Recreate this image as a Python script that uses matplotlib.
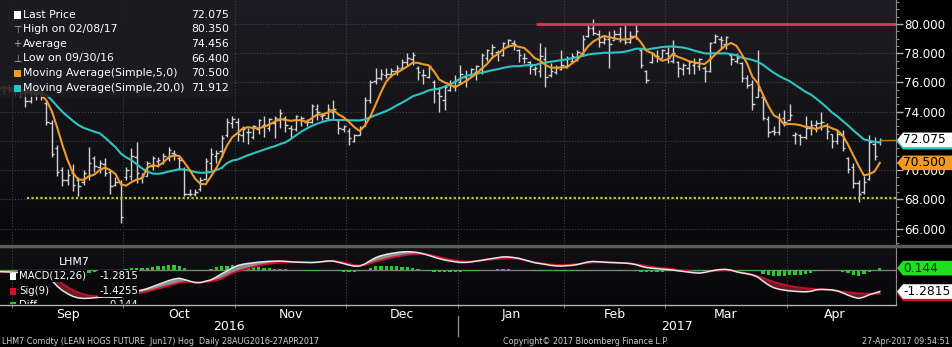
import numpy as np
import pandas as pd
import matplotlib
matplotlib.use("Agg")
import matplotlib.pyplot as plt
import matplotlib.transforms as mtransforms
from matplotlib.patches import Polygon, Rectangle
from matplotlib.lines import Line2D
from matplotlib.colors import LinearSegmentedColormap

# ---------------------------------------------------------------- data
ticker = "LHM7"
holidays = ["2016-09-05", "2016-11-24", "2016-12-26", "2017-01-02",
            "2017-01-16", "2017-02-20", "2017-04-14"]
sessions = pd.bdate_range("2016-08-29", "2017-04-27")
sessions = sessions[~sessions.isin(pd.to_datetime(holidays))]

open_ = [
    75.6, 75.5, 75.6, 75.4, 75.5, 75.3, 74.7, 75.2, 75.3, 74.6,
    73.2, 71.5, 70.0, 69.3, 69.8, 69.3, 69.2, 69.6, 70.8, 70.2,
    70.4, 69.9, 69.0, 69.2, 69.5, 69.6, 70.9, 69.5, 69.6, 70.3,
    70.6, 70.5, 70.8, 71.2, 70.8, 70.1, 68.4, 68.4, 68.7, 69.4,
    70.5, 71.0, 71.3, 72.4, 73.2, 73.3, 72.4, 72.6, 72.3, 72.8,
    73.1, 72.9, 73.2, 73.4, 73.6, 72.9, 72.8, 73.4, 73.3, 73.3,
    74.2, 73.7, 73.6, 74.0, 73.4, 72.8, 72.7, 72.0, 72.4, 73.0,
    74.8, 76.1, 76.3, 76.5, 76.6, 76.8, 77.0, 77.4, 77.6, 77.0,
    76.5, 76.4, 76.0, 75.3, 74.8, 75.5, 75.7, 76.0, 76.4, 76.5,
    76.7, 76.9, 77.7, 78.0, 78.1, 77.9, 78.5, 78.7, 78.2, 77.7,
    77.4, 76.9, 76.8, 77.6, 76.5, 76.7, 76.9, 77.1, 77.5, 77.6,
    78.0, 79.2, 79.7, 79.3, 78.8, 79.0, 78.9, 79.3, 79.0, 78.8,
    79.2, 78.2, 76.8, 77.4, 77.8, 77.7, 78.0, 77.5, 77.4, 76.9,
    77.0, 77.2, 77.1, 77.0, 76.8, 78.8, 79.0, 78.6, 77.9, 77.5,
    77.3, 76.3, 75.9, 75.0, 75.0, 73.5, 72.7, 72.6, 73.6, 73.4,
    72.4, 72.4, 72.3, 72.9, 73.1, 73.2, 73.1, 72.5, 72.0, 72.4,
    70.8, 70.2, 69.1, 68.5, 69.4, 71.8, 71.9,
]
high = [
    75.9, 75.8, 75.9, 75.8, 75.7, 75.6, 75.5, 75.6, 75.5, 74.7,
    73.4, 71.7, 70.2, 70.1, 70.4, 69.5, 70.0, 71.6, 71.0, 70.7,
    70.8, 70.0, 69.5, 69.3, 70.2, 71.5, 71.9, 69.8, 70.6, 71.0,
    70.9, 71.2, 71.6, 71.4, 70.9, 70.2, 68.7, 68.7, 69.5, 70.8,
    71.5, 71.4, 72.4, 73.6, 73.7, 73.6, 73.0, 72.9, 73.1, 73.5,
    73.7, 73.6, 73.7, 74.2, 73.7, 73.1, 73.8, 73.7, 73.5, 74.5,
    74.5, 73.9, 74.5, 74.8, 73.5, 73.1, 72.9, 72.5, 73.0, 75.0,
    76.2, 77.0, 76.9, 77.0, 77.0, 77.2, 77.6, 78.0, 78.1, 77.1,
    76.9, 77.2, 76.2, 75.7, 75.8, 76.2, 76.5, 77.2, 76.85, 77.0,
    77.2, 78.0, 78.3, 78.6, 78.2, 78.8, 79.0, 78.9, 78.3, 78.0,
    77.5, 77.1, 78.7, 78.45, 77.3, 77.2, 78.2, 77.8, 78.0, 78.2,
    79.25, 79.9, 80.35, 79.6, 79.25, 79.5, 79.6, 79.8, 79.93, 79.5,
    79.9, 78.3, 76.85, 78.1, 78.2, 78.3, 78.45, 78.9, 77.5, 77.3,
    77.5, 77.65, 77.65, 77.1, 78.8, 79.3, 79.2, 79.2, 78.0, 78.0,
    77.4, 76.5, 76.2, 78.2, 75.2, 73.7, 73.0, 73.9, 74.1, 74.5,
    72.6, 72.5, 73.7, 73.4, 73.4, 74.0, 73.2, 72.5, 72.75, 72.75,
    70.9, 70.5, 69.3, 69.6, 72.4, 72.3, 72.2,
]
low = [
    75.3, 75.2, 75.3, 75.1, 75.0, 74.3, 74.6, 74.8, 74.8, 73.1,
    70.9, 69.6, 68.9, 69.0, 68.6, 68.2, 69.0, 69.3, 69.9, 69.8,
    69.6, 68.4, 68.9, 66.4, 69.3, 69.3, 69.1, 69.1, 69.6, 70.0,
    70.2, 70.4, 70.6, 70.7, 70.0, 68.2, 68.2, 68.2, 68.6, 69.3,
    70.0, 70.5, 70.9, 72.3, 72.9, 72.0, 71.9, 71.8, 72.1, 72.5,
    72.3, 72.7, 72.2, 72.9, 72.6, 72.2, 72.7, 73.0, 73.0, 73.2,
    73.4, 73.4, 73.4, 73.4, 72.5, 72.6, 71.7, 71.9, 72.4, 73.0,
    74.6, 75.9, 76.2, 76.3, 76.4, 76.5, 76.9, 77.1, 77.2, 76.2,
    75.9, 76.3, 74.6, 74.0, 74.1, 75.4, 75.4, 75.9, 75.7, 76.4,
    76.2, 76.6, 77.5, 77.65, 77.5, 77.8, 78.45, 78.2, 77.4, 77.3,
    76.6, 76.5, 76.4, 75.7, 76.4, 76.6, 76.85, 76.97, 77.3, 77.5,
    77.8, 79.1, 79.25, 78.45, 78.6, 77.0, 78.9, 78.8, 78.6, 78.7,
    79.0, 77.0, 75.94, 77.3, 77.4, 77.65, 77.3, 77.3, 76.4, 76.5,
    76.6, 76.6, 76.85, 76.05, 76.7, 78.7, 78.3, 78.3, 77.2, 77.3,
    76.05, 75.6, 74.1, 75.0, 73.4, 72.3, 72.4, 72.4, 73.0, 73.4,
    71.8, 71.7, 72.1, 72.4, 72.6, 72.75, 72.1, 71.5, 71.8, 71.3,
    69.8, 68.8, 67.8, 68.4, 69.3, 70.7, 71.7,
]
close = [
    75.6, 75.7, 75.5, 75.6, 75.3, 74.7, 75.4, 75.4, 75.0, 73.3,
    71.1, 69.9, 69.3, 69.7, 69.0, 68.9, 69.8, 70.5, 70.3, 70.5,
    69.8, 68.9, 69.2, 66.8, 70.0, 71.0, 69.8, 69.6, 70.5, 70.8,
    70.7, 71.0, 71.4, 71.1, 70.7, 68.4, 68.4, 68.5, 69.3, 70.6,
    71.1, 71.2, 72.2, 73.3, 73.5, 72.5, 72.8, 72.6, 73.0, 73.4,
    73.1, 73.5, 73.6, 73.9, 73.1, 72.8, 73.7, 73.6, 73.3, 74.4,
    74.0, 73.8, 74.2, 74.2, 72.9, 73.0, 72.2, 72.4, 72.9, 74.8,
    76.0, 76.3, 76.6, 76.6, 76.8, 77.0, 77.4, 77.7, 77.9, 76.7,
    76.5, 77.1, 75.6, 75.1, 75.7, 75.8, 76.2, 76.6, 76.2, 76.9,
    77.1, 77.9, 78.2, 78.4, 78.1, 78.7, 78.9, 78.6, 77.9, 77.7,
    77.1, 77.0, 77.8, 76.4, 76.8, 77.0, 77.2, 77.7, 77.8, 78.1,
    79.0, 79.7, 79.4, 78.8, 79.0, 78.6, 79.3, 79.0, 78.8, 79.2,
    79.5, 77.2, 76.2, 78.0, 77.8, 78.2, 77.7, 78.0, 77.0, 77.2,
    77.4, 77.3, 77.6, 76.8, 78.7, 79.2, 78.9, 79.1, 77.6, 77.7,
    76.3, 75.8, 74.5, 75.5, 73.6, 72.6, 72.6, 73.5, 73.3, 73.8,
    72.5, 72.3, 72.9, 73.1, 73.2, 73.3, 72.7, 72.0, 72.44, 71.5,
    70.1, 69.1, 68.35, 69.175, 71.9, 71.0, 72.075,
]
macd = [
    -0.07, -0.08, -0.09, -0.11, -0.13, -0.16, -0.18, -0.20, -0.23, -0.30,
    -0.60, -0.95, -1.22, -1.42, -1.58, -1.67, -1.70, -1.69, -1.66, -1.63,
    -1.61, -1.62, -1.64, -1.62, -1.45, -1.32, -1.25, -1.19, -1.10, -0.98,
    -0.86, -0.74, -0.62, -0.52, -0.47, -0.55, -0.65, -0.74, -0.74, -0.65,
    -0.57, -0.40, -0.20, -0.03, 0.15, 0.30, 0.38, 0.43, 0.47, 0.51,
    0.54, 0.56, 0.57, 0.58, 0.56, 0.53, 0.51, 0.50, 0.49, 0.48,
    0.50, 0.54, 0.58, 0.58, 0.50, 0.42, 0.33, 0.26, 0.27, 0.40,
    0.60, 0.78, 0.90, 0.98, 1.04, 1.09, 1.13, 1.15, 1.13, 1.09,
    1.02, 0.92, 0.82, 0.72, 0.64, 0.58, 0.53, 0.49, 0.49, 0.52,
    0.57, 0.62, 0.68, 0.73, 0.78, 0.83, 0.83, 0.79, 0.74, 0.65,
    0.56, 0.47, 0.42, 0.37, 0.31, 0.28, 0.27, 0.29, 0.31, 0.36,
    0.44, 0.52, 0.55, 0.53, 0.51, 0.49, 0.48, 0.46, 0.45, 0.42,
    0.36, 0.26, 0.18, 0.14, 0.11, 0.08, 0.06, 0.03, -0.02, -0.06,
    -0.10, -0.14, -0.16, -0.12, -0.04, 0.02, 0.06, 0.07, 0.02, -0.08,
    -0.15, -0.20, -0.27, -0.40, -0.65, -0.88, -1.05, -1.14, -1.20, -1.24,
    -1.27, -1.29, -1.30, -1.27, -1.18, -1.15, -1.16, -1.18, -1.24, -1.36,
    -1.50, -1.62, -1.70, -1.62, -1.48, -1.38, -1.2815,
]
signal = [
    -0.07, -0.07, -0.08, -0.09, -0.10, -0.11, -0.13, -0.15, -0.18, -0.22,
    -0.35, -0.55, -0.80, -1.02, -1.20, -1.34, -1.45, -1.52, -1.56, -1.59,
    -1.60, -1.60, -1.60, -1.59, -1.55, -1.49, -1.42, -1.35, -1.28, -1.20,
    -1.11, -1.02, -0.93, -0.84, -0.76, -0.70, -0.69, -0.71, -0.72, -0.70,
    -0.66, -0.60, -0.50, -0.33, -0.17, -0.05, 0.05, 0.14, 0.22, 0.30,
    0.36, 0.41, 0.45, 0.48, 0.49, 0.50, 0.50, 0.50, 0.50, 0.50,
    0.51, 0.53, 0.55, 0.56, 0.54, 0.49, 0.41, 0.33, 0.30, 0.34,
    0.42, 0.53, 0.62, 0.70, 0.78, 0.84, 0.90, 0.95, 0.98, 1.00,
    1.00, 0.97, 0.90, 0.81, 0.74, 0.67, 0.61, 0.57, 0.54, 0.55,
    0.58, 0.61, 0.64, 0.67, 0.70, 0.73, 0.75, 0.74, 0.70, 0.64,
    0.56, 0.50, 0.45, 0.41, 0.37, 0.34, 0.33, 0.34, 0.36, 0.39,
    0.42, 0.46, 0.49, 0.50, 0.50, 0.49, 0.48, 0.47, 0.45, 0.42,
    0.38, 0.34, 0.28, 0.22, 0.18, 0.15, 0.12, 0.08, 0.04, 0.00,
    -0.04, -0.08, -0.11, -0.10, -0.06, -0.02, 0.01, 0.02, 0.00, -0.05,
    -0.12, -0.18, -0.25, -0.35, -0.46, -0.58, -0.70, -0.79, -0.87, -0.94,
    -1.00, -1.04, -1.08, -1.11, -1.13, -1.15, -1.18, -1.21, -1.25, -1.29,
    -1.33, -1.36, -1.39, -1.40, -1.41, -1.42, -1.4255,
]

support_level = 68.1
resistance_level = 80.0
price_ticks = [66, 68, 70, 72, 74, 76, 78, 80]

# ---------------------------------------------------------------- derived series
o = np.array(open_)
h = np.array(high)
l = np.array(low)
c = np.array(close)
n = len(c)
xs = np.arange(n)
dates = sessions[:n]

ma5 = pd.Series(c).rolling(5, min_periods=1).mean().to_numpy()
ma20 = pd.Series(c).rolling(20, min_periods=1).mean().to_numpy()
m = np.array(macd)
s = np.array(signal)
d = m - s

months = dates.to_period("M")
first_idx = [i for i in range(1, n) if months[i] != months[i - 1]]
bounds = [i - 0.5 for i in first_idx]
edges = bounds + [n - 0.5]
centers = [(a + b) / 2 for a, b in zip(edges[:-1], edges[1:])]
month_names = [dates[i].strftime("%b") for i in first_idx]
year_break = next(i for i in range(1, n) if dates[i].year != dates[i - 1].year) - 0.5

# ---------------------------------------------------------------- figure
W, H = 952, 347
fig = plt.figure(figsize=(W / 100, H / 100), dpi=100)
fig.patch.set_facecolor("black")


def fx(px):
    return px / W


def fy(py):
    return 1 - py / H


PANEL_R = 896
ax = fig.add_axes([0, fy(244), fx(PANEL_R), 244 / H])
axm = fig.add_axes([0, fy(304), fx(PANEL_R), (304 - 247) / H])

x_lo, x_hi = 0.24, 169.05
p_lo, p_hi = 64.95, 81.64
m_lo, m_hi = -2.04, 1.43

grad = np.linspace(0, 1, 256).reshape(-1, 1)
ax.imshow(grad, extent=(0, 1, 0, 1), transform=ax.transAxes, aspect="auto",
          cmap=LinearSegmentedColormap.from_list("bgp", ["#1d1d23", "#09090c"]), zorder=0)
axm.imshow(grad, extent=(0, 1, 0, 1), transform=axm.transAxes, aspect="auto",
           cmap=LinearSegmentedColormap.from_list("bgm", ["#111115", "#060608"]), zorder=0)

grid_kw = dict(color="#4a4a52", lw=0.7, ls=(0, (1, 2)), zorder=1)
for t in price_ticks:
    ax.axhline(t, **grid_kw)
for b in bounds:
    ax.axvline(b, **grid_kw)
    axm.axvline(b, **grid_kw)

# price bars (high-low with open / close ticks)
bar_c = "#d2d2d2"
ax.vlines(xs, l, h, color=bar_c, lw=1.0, zorder=3)
ax.hlines(o, xs - 0.45, xs, color=bar_c, lw=1.0, zorder=3)
ax.hlines(c, xs, xs + 0.45, color=bar_c, lw=1.0, zorder=3)

ax.plot(xs, ma20, color="#2ec4c4", lw=1.5, zorder=4)
ax.plot(xs, ma5, color="#f09a28", lw=1.5, zorder=5)

ax.hlines(resistance_level, 101.2, x_hi, color="#e8305c", lw=2.0, zorder=4)
ax.hlines(support_level, 5.3, x_hi, color="#a6d436", lw=1.6, linestyles=(0, (1, 1)), zorder=4)
ax.hlines(c[-1], xs[-1], x_hi, color="#b8742a", lw=1.0, zorder=4)

ax.set_xlim(x_lo, x_hi)
ax.set_ylim(p_lo, p_hi)
ax.set_xticks([])
ax.yaxis.tick_right()
ax.set_yticks(price_ticks)
# a tick label lying fully under the last-price tag is not printed
ax.set_yticklabels(["" if abs(t - c[-1]) < 0.5 else f"{t:.3f}" for t in price_ticks])
ax.set_yticks(np.arange(65, 81.6, 0.5), minor=True)
ax.tick_params(axis="y", which="major", colors="#b0b0b0", labelcolor="white",
               length=5, width=1, direction="out", pad=1, labelsize=8.6)
ax.tick_params(axis="y", which="minor", colors="#8a8a8a", length=2.5, width=0.8, direction="out")
for sp in ("top", "left", "bottom"):
    ax.spines[sp].set_visible(False)
ax.spines["right"].set_color("#8a8a8a")

# MACD panel
axm.axhline(0, color="#7c7c7c", lw=1.0, zorder=1)
axm.bar(xs, d, width=0.62, color="#25cc25", zorder=2)
axm.fill_between(xs, m, s, where=m >= s, interpolate=True, color="#8e8e8e", lw=0, zorder=3)
axm.fill_between(xs, m, s, where=m < s, interpolate=True, color="#6c1b25", lw=0, zorder=3)
axm.plot(xs, s, color="#c8102e", lw=1.3, zorder=4)
axm.plot(xs, m, color="#e6e6e6", lw=1.1, zorder=5)
axm.set_xlim(x_lo, x_hi)
axm.set_ylim(m_lo, m_hi)
axm.set_yticks([])
axm.set_xticks(centers)
axm.set_xticklabels(month_names)
axm.set_xticks(bounds, minor=True)
axm.tick_params(axis="x", which="major", length=0, pad=3, labelcolor="white", labelsize=9)
axm.tick_params(axis="x", which="minor", length=3, color="#9a9a9a", direction="out")
for sp in ("top", "left", "bottom"):
    axm.spines[sp].set_visible(False)
axm.spines["right"].set_color("#8a8a8a")

# panel separators
fig.add_artist(Line2D([0, 1], [fy(245.5)] * 2, color="#5c5c5c", lw=2.5, transform=fig.transFigure))
fig.add_artist(Line2D([0, fx(PANEL_R)], [fy(304.5)] * 2, color="#b4b4b4", lw=1.0, transform=fig.transFigure))

# years under the month labels
yt = mtransforms.blended_transform_factory(axm.transData, fig.transFigure)
axm.text((x_lo + year_break) / 2, fy(327), str(dates[0].year), transform=yt, ha="center",
         va="center", color="white", fontsize=9, clip_on=False)
axm.text((year_break + x_hi) / 2, fy(327), str(dates[-1].year), transform=yt, ha="center",
         va="center", color="white", fontsize=9, clip_on=False)
axm.add_line(Line2D([year_break, year_break], [fy(316), fy(336)], transform=yt,
                    color="#8a8a8a", lw=1.0, clip_on=False))

# ---------------------------------------------------------------- legends
fig.add_artist(Rectangle((0, fy(97)), fx(233), 97 / H, transform=fig.transFigure,
                         facecolor="#1b1b20", alpha=0.85, edgecolor="none", zorder=6))
hi_i = int(np.argmax(h))
lo_i = int(np.argmin(l))
legend_rows = [
    ("Last Price", f"{c[-1]:.3f}", "sq", "white"),
    (f"High on {dates[hi_i]:%m/%d/%y}", f"{h[hi_i]:.3f}", "\u22a4", "#b0b0b0"),
    ("Average", f"{c.mean():.3f}", "+", "#b0b0b0"),
    (f"Low on {dates[lo_i]:%m/%d/%y}", f"{l[lo_i]:.3f}", "\u22a5", "#b0b0b0"),
    ("Moving Average(Simple,5,0)", f"{ma5[-1]:.3f}", "sq", "#f09a28"),
    ("Moving Average(Simple,20,0)", f"{ma20[-1]:.3f}", "sq", "#2ec4c4"),
]
row_y = [15, 29.5, 44, 58.5, 73, 88]
leg_fs = 7.8
for (name, val, icon, col), yy in zip(legend_rows, row_y):
    if icon == "sq":
        fig.add_artist(Rectangle((fx(14), fy(yy + 3.5)), fx(7), 7 / H, transform=fig.transFigure,
                                 facecolor=col, edgecolor="none", zorder=7))
    else:
        fig.text(fx(17.5), fy(yy), icon, color=col, fontsize=7, ha="center", va="center", zorder=7)
    fig.text(fx(23), fy(yy), name, color="white", fontsize=leg_fs, ha="left", va="center", zorder=7)
    fig.text(fx(229), fy(yy), val, color="white", fontsize=leg_fs, ha="right", va="center", zorder=7)


def ax_y(py):
    return (304 - py) / (304 - 247)


axm.text(74 / PANEL_R, ax_y(262), ticker, transform=axm.transAxes, color="white",
         fontsize=7.8, ha="center", va="center", zorder=8)
macd_rows = [
    ("MACD(12,26)", f"{m[-1]:.4f}", "white", 276),
    ("Sig(9)", f"{s[-1]:.4f}", "#d8102a", 291),
    ("Diff", f"{d[-1]:.3f}", "#25cc25", 305),
]
for name, val, col, yy in macd_rows:
    axm.add_patch(Rectangle((10 / PANEL_R, ax_y(yy + 3.5)), 6 / PANEL_R, 7 / 57,
                            transform=axm.transAxes, facecolor=col, edgecolor="none", zorder=8))
    box = dict(facecolor="#08080a", edgecolor="none", pad=0.5)
    axm.text(19 / PANEL_R, ax_y(yy), name, transform=axm.transAxes, color="white", fontsize=7.3,
             ha="left", va="center", zorder=8, clip_on=True, bbox=box)
    axm.text(138 / PANEL_R, ax_y(yy), val, transform=axm.transAxes, color="white", fontsize=7.3,
             ha="right", va="center", zorder=8, clip_on=True, bbox=box)


# ---------------------------------------------------------------- value tags
def value_tag(axis, value, face, label=None, fg="black", z=10):
    yc = H - axis.transData.transform((x_hi, value))[1]
    half = 7.3
    pts = [(PANEL_R + 1, yc), (PANEL_R + 7, yc - half), (W, yc - half),
           (W, yc + half), (PANEL_R + 7, yc + half)]
    fig.add_artist(Polygon([(fx(px), fy(py)) for px, py in pts], closed=True,
                           transform=fig.transFigure, facecolor=face, edgecolor="none", zorder=z))
    if label is not None:
        fig.text(fx(PANEL_R + 7), fy(yc), label, color=fg, fontsize=8.8, ha="left", va="center",
                 zorder=z + 0.5)


# the 20-day average and the signal tags sit just under the last-price / MACD tags
value_tag(ax, ma20[-1], "#2ec4c4", z=10)
value_tag(ax, c[-1], "white", f"{c[-1]:.3f}", z=11)
value_tag(ax, ma5[-1], "#f39a1e", f"{ma5[-1]:.3f}", z=12)
value_tag(axm, d[-1], "#1fe01f", f"{d[-1]:.3f}", fg="#062b06", z=10)
value_tag(axm, s[-1], "#d01024", z=11)
value_tag(axm, m[-1], "white", f"{m[-1]:.4f}", z=12)

# ---------------------------------------------------------------- footer
foot = dict(color="#cfcfcf", fontsize=5.8, va="center")
fig.text(fx(2), fy(341), "LHM7 Comdty (LEAN HOGS FUTURE  Jun17) Hog  Daily 28AUG2016-27APR2017",
         ha="left", **foot)
fig.text(fx(503), fy(341), "Copyright\u00a9 2017 Bloomberg Finance L.P.", ha="left", **foot)
fig.text(fx(950), fy(341), "27-Apr-2017 09:54:51", ha="right", **foot)

fig.savefig("out.png", dpi=100, facecolor=fig.get_facecolor())
